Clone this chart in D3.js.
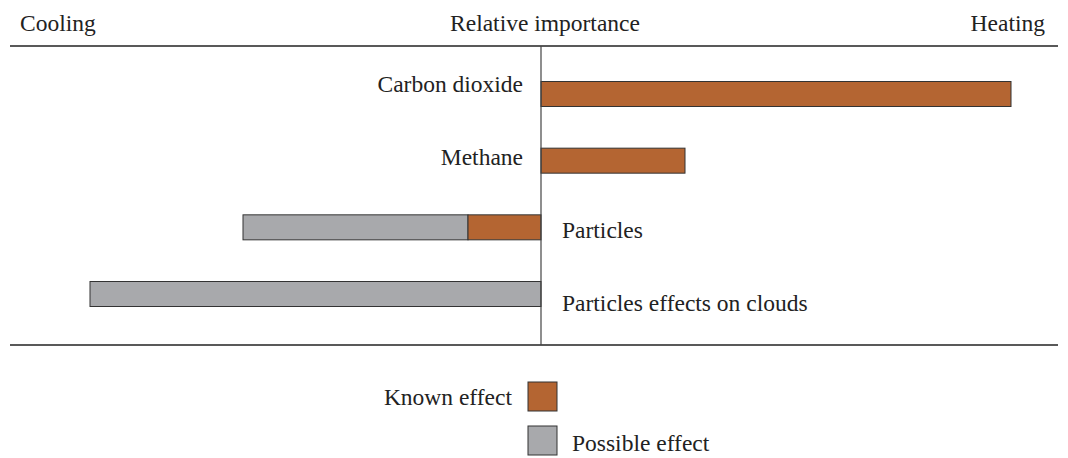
<!DOCTYPE html>
<html>
<body style="margin:0; background:#fff;">
    <script src="https://d3js.org/d3.v7.min.js" charset="utf-8"></script>
    <div id="graph"></div>
    <script>
        // chart data (relative importance, arbitrary units; negative = cooling)
        const categories = ["Carbon dioxide", "Methane", "Particles", "Particles effects on clouds"];
        const knownEffect = [0.94, 0.288, -0.146, 0];
        const possibleEffect = [0, 0, -0.45, -0.902];
        const legendLabels = ["Known effect", "Possible effect"];
        const headerLabels = ["Cooling", "Relative importance", "Heating"];

        const width = 1068, height = 458;
        const font = "'Liberation Serif', 'DejaVu Serif', serif";
        const fontSize = "23.5px";
        const orange = "#b46532", gray = "#a8a9ac";

        const svg = d3.select("#graph")
            .append("svg")
            .attr("width", width)
            .attr("height", height)
            .style("font-family", font);

        // scales
        const x = d3.scaleLinear()
            .domain([-1, 1])
            .range([41, 1041]);
        const y = d3.scalePoint()
            .domain(categories)
            .range([94, 294]);
        const barH = 25;

        // header texts
        svg.append("text").attr("x", 20).attr("y", 31).text(headerLabels[0])
            .style("font-size", fontSize).style("fill", "#222");
        svg.append("text").attr("x", 545).attr("y", 31).attr("text-anchor", "middle").text(headerLabels[1])
            .style("font-size", fontSize).style("fill", "#222");
        svg.append("text").attr("x", 1045).attr("y", 31).attr("text-anchor", "end").text(headerLabels[2])
            .style("font-size", fontSize).style("fill", "#222");

        // frame lines
        svg.append("line").attr("x1", 10).attr("x2", 1058).attr("y1", 46).attr("y2", 46)
            .style("stroke", "#222").style("stroke-width", 1.5);
        svg.append("line").attr("x1", 10).attr("x2", 1058).attr("y1", 345).attr("y2", 345)
            .style("stroke", "#222").style("stroke-width", 1.5);

        const rows = categories.map((c, i) => ({ cat: c, known: knownEffect[i], possible: possibleEffect[i] }));

        // possible effect (extends beyond known)
        svg.append("g")
            .selectAll("rect")
            .data(rows.filter(d => d.possible !== 0))
            .enter()
            .append("rect")
            .attr("x", d => x(Math.min(d.known + d.possible, d.known)))
            .attr("width", d => Math.abs(x(d.known + d.possible) - x(d.known)))
            .attr("y", d => y(d.cat) - barH / 2)
            .attr("height", barH)
            .style("fill", gray)
            .style("stroke", "#333")
            .style("stroke-width", 1);

        // known effect
        svg.append("g")
            .selectAll("rect")
            .data(rows.filter(d => d.known !== 0))
            .enter()
            .append("rect")
            .attr("x", d => x(Math.min(0, d.known)))
            .attr("width", d => Math.abs(x(d.known) - x(0)))
            .attr("y", d => y(d.cat) - barH / 2)
            .attr("height", barH)
            .style("fill", orange)
            .style("stroke", "#333")
            .style("stroke-width", 1);

        // centre axis
        svg.append("line").attr("x1", x(0)).attr("x2", x(0)).attr("y1", 46).attr("y2", 345)
            .style("stroke", "#444").style("stroke-width", 1.2);

        // category labels: heating ones on the left, cooling ones on the right
        svg.append("g")
            .selectAll("text")
            .data(rows)
            .enter()
            .append("text")
            .attr("x", d => d.known + d.possible > 0 ? x(0) - 18 : x(0) + 21)
            .attr("y", (d, i) => y(d.cat) + [-2, 4, 11, 17][i])
            .attr("text-anchor", d => d.known + d.possible > 0 ? "end" : "start")
            .style("font-size", fontSize)
            .style("fill", "#222")
            .text(d => d.cat);

        // legend
        svg.append("rect").attr("x", 528).attr("y", 382).attr("width", 29).attr("height", 29)
            .style("fill", orange).style("stroke", "#333");
        svg.append("text").attr("x", 512).attr("y", 405).attr("text-anchor", "end").text(legendLabels[0])
            .style("font-size", fontSize).style("fill", "#222");
        svg.append("rect").attr("x", 528).attr("y", 426).attr("width", 29).attr("height", 29)
            .style("fill", gray).style("stroke", "#333");
        svg.append("text").attr("x", 572).attr("y", 451).text(legendLabels[1])
            .style("font-size", fontSize).style("fill", "#222");
    </script>
</body>
</html>
